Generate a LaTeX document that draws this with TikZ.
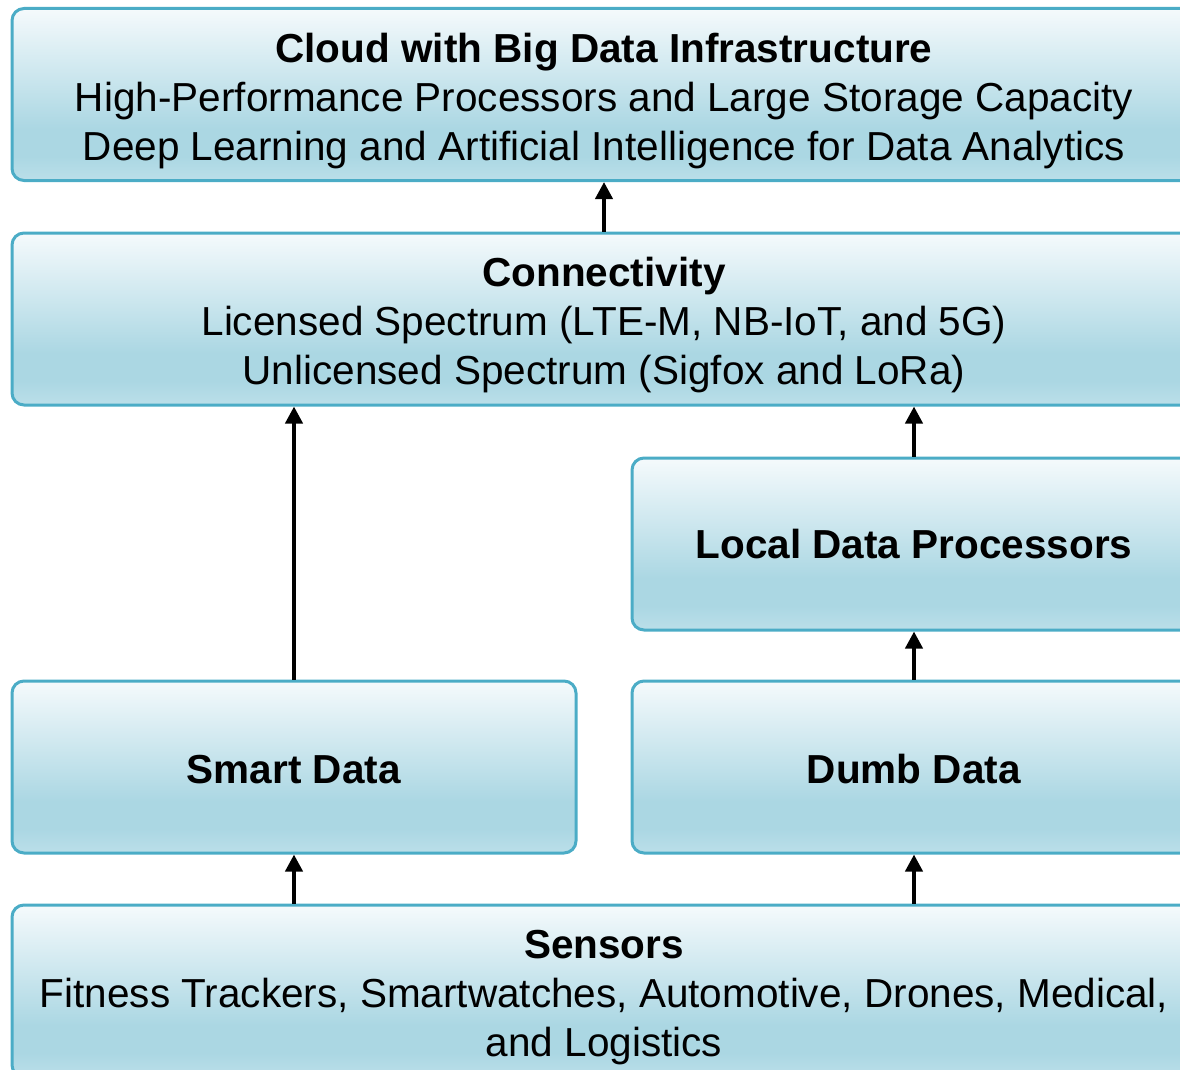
\documentclass[tikz,border=0pt]{standalone}
\usepackage{fontspec}
\setmainfont{Liberation Sans}
\usetikzlibrary{arrows.meta}
\definecolor{boxline}{HTML}{4BACC6}
\definecolor{boxtop}{HTML}{F5FAFC}
\definecolor{boxmid}{HTML}{ABD7E3}
\definecolor{boxbot}{HTML}{BBDFE9}
\pgfdeclareverticalshading{boxshade}{100bp}{color(0bp)=(boxbot); color(25bp)=(boxbot); color(32bp)=(boxmid); color(40bp)=(boxmid); color(75bp)=(boxtop); color(100bp)=(boxtop)}
\newcommand{\topgap}{\rule{0pt}{42pt}}
\tikzset{
	layer/.style={draw=boxline,line width=3pt,rounded corners=12pt,shading=boxshade,
		minimum height=172pt,inner sep=0pt,align=center,
		font=\fontsize{40.5}{49}\selectfont},
	onerow/.style={text height=33pt,text depth=0pt},
	up/.style={line width=4pt,-{Triangle[length=17pt,width=17pt]}}
}
\begin{document}
\begin{tikzpicture}[x=1pt,y=-1pt]
					\useasboundingbox (0,0) rectangle (1180,1070);
					\clip (0,0) rectangle (1180,1070);
					\node[layer,minimum width=1184pt] (cloud) at (604,94.5) {\topgap\textbf{Cloud with Big Data Infrastructure}\\High-Performance Processors and Large Storage Capacity\\Deep Learning and Artificial Intelligence for Data Analytics};
					\node[layer,minimum width=1184pt] (conn) at (604,319) {\topgap\textbf{Connectivity}\\Licensed Spectrum (LTE-M, NB-IoT, and 5G)\\Unlicensed Spectrum (Sigfox and LoRa)};
					\node[layer,minimum width=564pt] (local) at (914,544) {\textbf{Local Data Processors}};
					\node[layer,onerow,minimum width=564pt] (smart) at (294,767) {\textbf{Smart Data}};
					\node[layer,onerow,minimum width=564pt] (dumb) at (914,767) {\textbf{Dumb Data}};
					\node[layer,minimum width=1184pt] (sensors) at (604,991) {\topgap\textbf{Sensors}\\Fitness Trackers, Smartwatches, Automotive, Drones, Medical,\\and Logistics};
					\draw[up] (conn.north) -- (cloud.south);
					\draw[up] (smart.north) -- (smart.north |- conn.south);
					\draw[up] (local.north) -- (local.north |- conn.south);
					\draw[up] (dumb.north) -- (local.south);
					\draw[up] (smart.south |- sensors.north) -- (smart.south);
					\draw[up] (dumb.south |- sensors.north) -- (dumb.south);
\end{tikzpicture}
\end{document}
